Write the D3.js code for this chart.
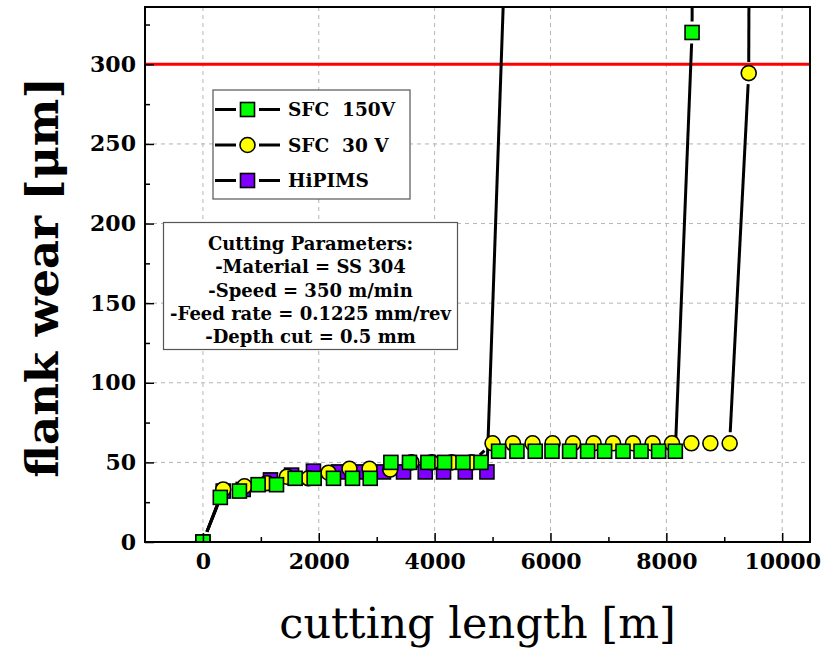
<!DOCTYPE html>
<meta charset="utf-8">
<style>
body { margin: 0; background: #fff; }
svg text { font-family: "DejaVu Serif", serif; fill: #000; }
.axis text { font-size: 22px; font-weight: bold; }
.grid line { stroke: #b4b4b4; stroke-dasharray: 4,4; }
</style>
<svg class="chart" width="822" height="654"></svg>
<script src="https://d3js.org/d3.v7.min.js"></script>
<script>

var seriesNames = ["SFC  150V", "SFC  30 V", "HiPIMS"];

// SFC 150V (green squares)
var sfc150Length = [0, 300, 630, 953, 1270, 1592, 1920, 2254, 2582, 2888, 3245, 3566, 3884, 4171, 4489, 4800,
  5104, 5421, 5737, 6026, 6330, 6641, 6934, 7252, 7563, 7867, 8155, 8444, 8480];
var sfc150Wear = [0, 28, 32, 36, 36, 40, 40, 40, 40, 40, 50, 50, 50, 50, 50, 50,
  57, 57, 57, 57, 57, 57, 57, 57, 57, 57, 57, 320, 700];

// SFC 30 V (yellow circles)
var sfc30Length = [0, 350, 717, 1104, 1449, 1822, 2168, 2530, 2876, 3233, 3600, 3950, 4300, 4640,
  5000, 5352, 5691, 6036, 6389, 6744, 7080, 7425, 7764, 8098, 8432, 8760, 9093, 9422, 9440];
var sfc30Wear = [0, 33, 35, 37, 41, 40, 43.5, 46, 46, 45.5, 50, 50, 50, 50,
  62, 62, 62, 62, 62, 62, 62, 62, 62, 62, 62, 62, 62, 294.5, 500];

// HiPIMS (purple squares)
var hipimsLength = [0, 350, 695, 1166, 1530, 1908, 2340, 2744, 3117, 3463, 3838, 4154, 4529, 4903, 5340];
var hipimsWear = [0, 32, 33, 39, 42, 44.5, 44, 44, 44, 44, 44, 44, 44, 44, 500];

var xTicks = [0, 2000, 4000, 6000, 8000, 10000];
var yTicks = [0, 50, 100, 150, 200, 250, 300];
var wearLimit = 300;

var paramLines = ["Cutting Parameters:", "-Material = SS 304", "-Speed = 350 m/min",
  "-Feed rate = 0.1225 mm/rev", "-Depth cut = 0.5 mm"];

var pL = 145, pR = 810, pT = 7, pB = 542;

var x = d3.scaleLinear().domain([-1000, 10480]).range([pL, pR]);
var y = d3.scaleLinear().domain([0, 336]).range([pB, pT]);

var svg = d3.select(".chart");

function zipPts(xs, ys) {
  return xs.map(function(v, i) { return { x: v, y: ys[i] }; });
}

var series = [
  { name: seriesNames[2], pts: zipPts(hipimsLength, hipimsWear), shape: "square", fill: "#8000ff" },
  { name: seriesNames[1], pts: zipPts(sfc30Length, sfc30Wear), shape: "circle", fill: "#ffff00" },
  { name: seriesNames[0], pts: zipPts(sfc150Length, sfc150Wear), shape: "square", fill: "#00ff00" }
];

svg.append("clipPath").attr("id", "plotclip")
  .append("rect").attr("x", pL).attr("y", pT)
  .attr("width", pR - pL).attr("height", pB - pT);

// grid
var grid = svg.append("g").attr("class", "grid");
grid.selectAll(".gx").data(xTicks).enter().append("line")
  .attr("x1", function(d) { return x(d); }).attr("x2", function(d) { return x(d); })
  .attr("y1", pT).attr("y2", pB);
grid.selectAll(".gy").data(yTicks.slice(1)).enter().append("line")
  .attr("y1", function(d) { return y(d); }).attr("y2", function(d) { return y(d); })
  .attr("x1", pL).attr("x2", pR);

// wear limit
svg.append("line")
  .attr("x1", pL).attr("x2", pR)
  .attr("y1", y(wearLimit)).attr("y2", y(wearLimit))
  .attr("stroke", "#ff0000").attr("stroke-width", 3);

// lines with a gap round each symbol
var gap = 11;
var plot = svg.append("g").attr("clip-path", "url(#plotclip)");
series.forEach(function(s) {
  for (var i = 0; i < s.pts.length - 1; i++) {
    var x1 = x(s.pts[i].x), y1 = y(s.pts[i].y), x2 = x(s.pts[i + 1].x), y2 = y(s.pts[i + 1].y);
    var len = Math.hypot(x2 - x1, y2 - y1);
    if (len <= 2 * gap) continue;
    var ux = (x2 - x1) / len, uy = (y2 - y1) / len;
    plot.append("line")
      .attr("x1", x1 + ux * gap).attr("y1", y1 + uy * gap)
      .attr("x2", x2 - ux * gap).attr("y2", y2 - uy * gap)
      .attr("stroke", "#000").attr("stroke-width", 3);
  }
});

function drawSymbol(g, shape, fill, cx, cy) {
  if (shape === "circle") {
    g.append("circle").attr("cx", cx).attr("cy", cy).attr("r", 7.5)
      .attr("fill", fill).attr("stroke", "#000").attr("stroke-width", 1.6);
  } else {
    g.append("rect").attr("x", cx - 7).attr("y", cy - 7).attr("width", 14).attr("height", 14)
      .attr("fill", fill).attr("stroke", "#000").attr("stroke-width", 1.6);
  }
}

var marks = svg.append("g").attr("clip-path", "url(#plotclip)");
series.forEach(function(s) {
  s.pts.forEach(function(p) {
    if (p.y > 336) return;
    drawSymbol(marks, s.shape, s.fill, x(p.x), y(p.y));
  });
});

// axes
var xAxis = svg.append("g").attr("class", "axis")
  .attr("transform", "translate(0," + pB + ")")
  .call(d3.axisBottom(x).tickValues(xTicks).tickSize(-9).tickPadding(11).tickFormat(d3.format("d")));
svg.append("g").attr("transform", "translate(0," + pB + ")")
  .call(d3.axisBottom(x).tickValues([1000, 3000, 5000, 7000, 9000]).tickSize(-5).tickFormat(""))
  .select(".domain").remove();
xAxis.select(".domain").remove();

var yAxis = svg.append("g").attr("class", "axis")
  .attr("transform", "translate(" + pL + ",0)")
  .call(d3.axisLeft(y).tickValues(yTicks).tickSize(-9).tickPadding(9));
svg.append("g").attr("transform", "translate(" + pL + ",0)")
  .call(d3.axisLeft(y).tickValues([25, 75, 125, 175, 225, 275, 325]).tickSize(-5).tickFormat(""))
  .select(".domain").remove();
yAxis.select(".domain").remove();
svg.selectAll(".tick line").attr("stroke", "#000").attr("stroke-width", 1.5);

// frame
svg.append("rect").attr("x", pL).attr("y", pT)
  .attr("width", pR - pL).attr("height", pB - pT)
  .attr("fill", "none").attr("stroke", "#000").attr("stroke-width", 2);

// axis titles
svg.append("text")
  .attr("x", (pL + pR) / 2).attr("y", 638)
  .attr("text-anchor", "middle")
  .style("font-size", "43px")
  .text("cutting length [m]");

svg.append("text")
  .attr("transform", "translate(58," + ((pT + pB) / 2 + 3) + ") rotate(-90)")
  .attr("text-anchor", "middle")
  .style("font-size", "45px").style("font-weight", "bold")
  .text("flank wear [\u03bcm]");

// legend
var legend = svg.append("g");
legend.append("rect").attr("x", 213).attr("y", 90).attr("width", 197).attr("height", 109)
  .attr("fill", "#fff").attr("stroke", "#555").attr("stroke-width", 1.2);
var legendRows = [series[2], series[1], series[0]];
legendRows.forEach(function(s, i) {
  var ly = 109.5 + i * 35.5;
  legend.append("line").attr("x1", 215).attr("x2", 236).attr("y1", ly).attr("y2", ly)
    .attr("stroke", "#000").attr("stroke-width", 3);
  legend.append("line").attr("x1", 259).attr("x2", 280).attr("y1", ly).attr("y2", ly)
    .attr("stroke", "#000").attr("stroke-width", 3);
  drawSymbol(legend, s.shape, s.fill, 247.5, ly);
  legend.append("text").attr("x", 288).attr("y", ly).attr("dy", "0.36em")
    .style("font-size", "18.5px").style("font-weight", "bold").style("white-space", "pre")
    .text(s.name);
});

// parameter box
var box = svg.append("g");
box.append("rect").attr("x", 163.5).attr("y", 222.5).attr("width", 294).attr("height", 127)
  .attr("fill", "#fff").attr("stroke", "#555").attr("stroke-width", 1.2);
box.selectAll("text").data(paramLines).enter().append("text")
  .attr("x", 310.5).attr("y", function(d, i) { return 243.5 + i * 23.3; })
  .attr("dy", "0.36em").attr("text-anchor", "middle")
  .style("font-size", "18px").style("font-weight", "bold")
  .text(function(d) { return d; });

</script>
